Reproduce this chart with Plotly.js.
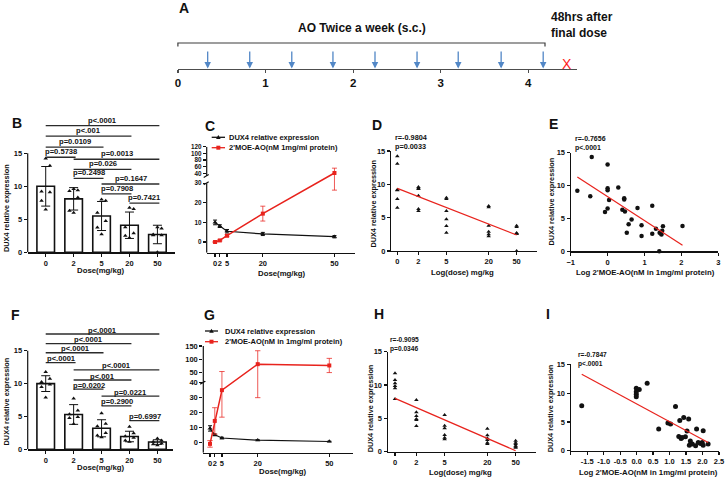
<!DOCTYPE html>
<html>
<head>
<meta charset="utf-8">
<script src="https://cdn.plot.ly/plotly-3.0.1.min.js"></script>
<style>
  html, body { margin: 0; padding: 0; background: #fff; }
  #fig { width: 727px; height: 481px; }
</style>
</head>
<body>
<div id="fig"></div>
<script>
// ---------------- data ----------------
const doseLabels = ['0', '2', '5', '20', '50'];
const doses = [0, 2, 5, 20, 50];
const logDose = [0, 0.301, 0.699, 1.301, 1.699];

// dosing schedule (weeks)
const weekTicks = [0, 1, 2, 3, 4];
const doseWeeks = [0.34, 0.82, 1.30, 1.77, 2.25, 2.73, 3.20, 3.69, 4.17];
const harvestWeek = 4.44;

// study 1: individual DUX4 relative expression per dose group
const dux4Top = [
  [14.2, 13.1, 9.2, 9.1, 7.8, 6.5],
  [9.6, 9.4, 9.3, 8.3, 6.3, 6.0],
  [8.0, 7.8, 6.0, 4.75, 3.75, 2.75],
  [6.75, 6.55, 3.8, 2.9, 2.5, 2.2],
  [3.8, 3.6, 2.7, 2.6, 2.6, 0.0]
];
const dux4TopMean = [10.0, 8.1, 5.5, 4.1, 2.7];
const dux4TopSD = [3.0, 1.7, 2.2, 2.0, 1.4];
const dux4TopSEM = [1.2, 0.7, 0.9, 0.8, 0.6];
const aoTopMean = [0, 0.8, 3.2, 14.5, 41];
const aoTopSEM = [0.3, 0.3, 0.5, 3.8, 14.5];
const fitTopDose = [9.4, 2.4];
const statTopDose = ['r=-0.9804', 'p=0.0033'];
const eLogAO = [-0.82, -0.43, -0.47, 0.00, 0.00, 0.00, 0.04, 0.00, -0.07, 0.29,
                0.45, 0.45, 0.40, 0.47, 0.65, 0.57, 0.52, 0.81, 0.92, 0.92,
                1.21, 1.21, 1.31, 1.41, 1.48, 1.46, 1.50, 2.03, 1.40, 1.44];
const eDux4 = [9.18, 14.3, 8.36, 13.18, 9.59, 9.28, 7.79, 6.51, 5.95, 9.69,
               8.05, 7.85, 6.31, 6.05, 4.82, 4.10, 2.82, 6.56, 3.95, 2.31,
               6.92, 2.67, 3.44, 2.82, 3.13, 2.56, 3.79, 3.85, 0.0, 2.72];
const fitTopAOx = [-0.82, 2.03];
const fitTopAOy = [11.28, 0.92];
const statTopAO = ['r=-0.7656', 'p<.0001'];

// study 2
const dux4Bot = [
  [11.75, 10.75, 10.25, 9.85, 9.5, 7.9],
  [7.75, 5.9, 5.35, 4.9, 4.75, 3.85],
  [5.5, 3.9, 3.5, 2.5, 2.1, 1.85],
  [3.45, 2.45, 2.0, 1.75, 1.35, 1.15],
  [1.65, 1.35, 1.15, 0.9, 0.75, 0.6]
];
const dux4BotMean = [10.0, 5.3, 3.2, 1.95, 1.1];
const dux4BotSD = [1.2, 1.5, 1.3, 0.8, 0.35];
const dux4BotLine = [9.5, 5.2, 3.1, 1.7, 0.8];
const dux4BotLineErr = [1.8, 0.6, 0.5, 0.3, 0.2];
const aoBotMean = [-0.8, 14.5, 35, 81, 76];
const aoBotErr = [2.2, 8.8, 18, 51, 27];
const fitBotDose = [8.0, 0.15];
const statBotDose = ['r=-0.9095', 'p=0.0346'];
const iLogAO = [-1.665, -0.01, 0.08, -0.01, -0.01, -0.01, 0.32, 0.67, 0.95, 1.03,
                1.18, 1.31, 1.43, 1.58, 1.28, 1.35, 1.48, 1.53, 1.63, 1.60,
                1.69, 1.79, 1.82, 2.02, 1.94, 1.99, 2.02, 2.17, 1.38, 1.87];
const iDux4 = [7.82, 10.83, 10.65, 10.25, 9.79, 9.38, 11.7, 3.76, 4.81, 4.63,
               7.7, 5.27, 5.79, 5.5, 2.49, 2.14, 2.43, 3.42, 1.68, 0.98,
               1.16, 0.87, 3.76, 3.47, 1.27, 1.45, 0.98, 1.16, 2.3, 1.45];
const fitBotAOx = [-1.665, 2.17];
const fitBotAOy = [13.26, 1.45];
const statBotAO = ['r=-0.7847', 'p<.0001'];

// pairwise comparisons (group indices) and their p values
const sigPairs = [[0, 4], [0, 3], [0, 2], [0, 1], [1, 4], [1, 3], [1, 2], [2, 4], [2, 3], [3, 4]];
const sigTopP = ['p<.0001', 'p<.001', 'p=0.0109', 'p=0.5738', 'p=0.0013', 'p=0.026', 'p=0.2498', 'p=0.1647', 'p=0.7908', 'p=0.7421'];
const sigBotP = ['p<.0001', 'p<.0001', 'p<.0001', 'p<.0001', 'p<.0001', 'p<.001', 'p=0.0202', 'p=0.0221', 'p=0.2900', 'p=0.6997'];

// ---------------- styling / layout helpers ----------------
const FONT = 'Arial, "Liberation Sans", Helvetica, sans-serif';
const INK = '#111111';
const RED = '#e8231d';
const RED_ERR = 'rgba(232,35,29,0.75)';
const BLUE = '#5287c6';
const W = 727, H = 481;
const hx = p => p / W;
const vy = p => 1 - p / H;
const bold = (size, color) => ({family: FONT, size: size, color: color || INK, weight: 'bold'});

// bracket heights (axis units) for the comparison bars
const sigTopLevels = [19.2, 17.6, 15.95, 14.4, 14.1, 12.55, 11.2, 10.35, 8.85, 7.45];
const sigBotLevels = [17.55, 16.1, 14.7, 13.2, 12.1, 10.55, 9.15, 8.1, 6.6, 4.37];
const jitter = [0, 0.15, -0.15, 0.15, -0.15, 0];

// broken y axis: values above the break are compressed into the upper segment
function makeBreak(lowTop, highBottom, gap, highScale) {
  return v => (v <= lowTop ? v : lowTop + gap + (v - highBottom) * highScale);
}
const brkC = makeBreak(30, 32, 3.73, 0.170);
const brkG = makeBreak(40, 40, 5.13, 0.1753);
function brokenErr(mean, err, f, color, width) {
  return {
    type: 'data', symmetric: false, visible: true,
    array: mean.map((m, i) => f(m + err[i]) - f(m)),
    arrayminus: mean.map((m, i) => f(m) - f(m - err[i])),
    color: color, thickness: 1, width: width
  };
}

function xAx(d0, d1, range, anchor, extra) {
  return Object.assign({
    domain: [hx(d0), hx(d1)], range: range, anchor: anchor,
    showline: true, linecolor: INK, linewidth: 1.2,
    ticks: 'outside', ticklen: 3, tickwidth: 1.2, tickcolor: INK,
    showgrid: false, zeroline: false, tickangle: 0, fixedrange: true,
    tickfont: bold(7.5)
  }, extra || {});
}
function yAx(bottom, top, range, anchor, extra) {
  return Object.assign({
    domain: [vy(bottom), vy(top)], range: range, anchor: anchor,
    showline: true, linecolor: INK, linewidth: 1.2,
    ticks: 'outside', ticklen: 3, tickwidth: 1.2, tickcolor: INK,
    showgrid: false, zeroline: false, fixedrange: true,
    tickfont: bold(7.5)
  }, extra || {});
}

const catTicks = {tickmode: 'array', tickvals: [0, 1, 2, 3, 4], ticktext: doseLabels};
const doseTicks = {tickmode: 'array', tickvals: doses, ticktext: doseLabels};
const logTicks = {tickmode: 'array', tickvals: logDose, ticktext: doseLabels};
const y15 = {tickmode: 'array', tickvals: [0, 5, 10, 15]};

const layout = {
  width: W, height: H,
  margin: {l: 0, r: 0, t: 0, b: 0},
  paper_bgcolor: '#ffffff', plot_bgcolor: 'rgba(0,0,0,0)',
  showlegend: false,
  font: {family: FONT, size: 7.5, color: INK},
  // B
  xaxis: xAx(27.7, 175, [-0.645, 4.63], 'y', catTicks),
  yaxis: yAx(252.3, 120.3, [0, 20], 'x', Object.assign({showline: false}, y15)),
  // C
  xaxis2: xAx(206.7, 355, [-3.5, 58.6], 'y2', doseTicks),
  yaxis2: yAx(252.7, 146.7, [-5.47, brkC(120)], 'x2', {
    showline: false, tickmode: 'array', tickfont: bold(6.3),
    tickvals: [0, 10, 20, 30].concat([40, 60, 80, 100, 120].map(brkC)),
    ticktext: ['0', '10', '20', '30', '40', '60', '80', '100', '120']
  }),
  // D
  xaxis3: xAx(391, 536.7, [-0.09, 1.985], 'y3', logTicks),
  yaxis3: yAx(251, 151, [0, 15], 'x3', y15),
  // E
  xaxis4: xAx(570.7, 718.3, [-1, 3], 'y4', {tickmode: 'array', tickvals: [-1, 0, 1, 2, 3]}),
  yaxis4: yAx(251.3, 152.5, [0, 15], 'x4', y15),
  // F
  xaxis5: xAx(27.7, 173.3, [-0.645, 4.57], 'y5', catTicks),
  yaxis5: yAx(449.3, 324.5, [0, 19], 'x5', Object.assign({showline: false}, y15)),
  // G
  xaxis6: xAx(203.3, 353.3, [-2.81, 60.06], 'y6', doseTicks),
  yaxis6: yAx(452.7, 346, [-6.67, brkG(150)], 'x6', {
    showline: false, tickmode: 'array',
    tickvals: [0, 10, 20, 30, 40].concat([50, 100, 150].map(brkG)),
    ticktext: ['0', '10', '20', '30', '40', '50', '100', '150']
  }),
  // H
  xaxis7: xAx(387.7, 536, [-0.103, 1.986], 'y7', logTicks),
  yaxis7: yAx(451.7, 351.7, [0, 15], 'x7', y15),
  // I
  xaxis8: xAx(570.7, 719, [-2, 2.5], 'y8', {
    tickmode: 'array', tickvals: [-2, -1.5, -1, -0.5, 0, 0.5, 1, 1.5, 2, 2.5],
    ticktext: ['', '-1.5', '-1.0', '-0.5', '0.0', '0.5', '1.0', '1.5', '2.0', '2.5']
  }),
  yaxis8: yAx(450.8, 364.3, [0, 15], 'x8', y15),
  // A: dosing timeline
  xaxis9: xAx(177.9, 577, [0, 4.556], 'y9', {
    tickmode: 'array', tickvals: weekTicks, linecolor: '#4d4d4d', linewidth: 1.3,
    tickcolor: '#4d4d4d', ticklen: 3, tickfont: bold(11.5)
  }),
  yaxis9: yAx(68.6, 40, [0, 1], 'x9', {visible: false, showline: false, ticks: ''}),
  annotations: [],
  shapes: []
};

const ann = layout.annotations;
const shp = layout.shapes;
function text(x, y, t, font, extra) {
  ann.push(Object.assign({xref: 'paper', yref: 'paper', x: hx(x), y: vy(y), text: t,
    showarrow: false, font: font, xanchor: 'center', yanchor: 'middle'}, extra || {}));
}

// ---------------- traces ----------------
const traces = [];

function barPanel(ax, mean, sd, points) {
  traces.push({
    type: 'bar', x: [0, 1, 2, 3, 4], y: mean, width: 0.63,
    xaxis: 'x' + ax, yaxis: 'y' + ax,
    marker: {color: '#ffffff', line: {color: INK, width: 1.6}},
    error_y: {type: 'data', array: sd, visible: true, color: INK, thickness: 1, width: 4.5},
    hoverinfo: 'skip'
  });
  const px = [], py = [];
  points.forEach((grp, i) => grp.forEach((v, k) => { px.push(i + jitter[k]); py.push(v); }));
  traces.push({
    type: 'scatter', mode: 'markers', x: px, y: py, xaxis: 'x' + ax, yaxis: 'y' + ax,
    marker: {symbol: 'triangle-up', size: 4, color: INK}, cliponaxis: false, hoverinfo: 'skip'
  });
}
function sigBars(ax, levels, labels, shift) {
  const xa = 'x' + ax, ya = 'y' + ax;
  sigPairs.forEach((pr, i) => {
    shp.push({type: 'line', xref: xa, yref: ya, x0: pr[0], x1: pr[1] + 0.07,
      y0: levels[i], y1: levels[i], line: {color: '#2b2b2b', width: 1.3}});
    ann.push({xref: xa, yref: ya, x: (pr[0] + pr[1]) / 2 + 0.05, y: levels[i], yshift: shift,
      text: labels[i], showarrow: false, font: bold(7.6), xanchor: 'center', yanchor: 'middle'});
  });
}
function doseResponse(ax, dMean, dErr, aMean, aErr, f, errW) {
  traces.push({
    type: 'scatter', mode: 'lines+markers', x: doses, y: dMean, xaxis: 'x' + ax, yaxis: 'y' + ax,
    line: {color: INK, width: 1.2}, marker: {symbol: 'triangle-up', size: 4.5, color: INK},
    error_y: {type: 'data', array: dErr, visible: true, color: INK, thickness: 1, width: 2},
    cliponaxis: false, hoverinfo: 'skip'
  });
  traces.push({
    type: 'scatter', mode: 'lines+markers', x: doses, y: aMean.map(f), xaxis: 'x' + ax, yaxis: 'y' + ax,
    line: {color: RED, width: 1.5}, marker: {symbol: 'square', size: 4, color: RED},
    error_y: brokenErr(aMean, aErr, f, RED_ERR, errW),
    cliponaxis: false, hoverinfo: 'skip'
  });
}
function scatterFit(ax, xs, ys, fx, fy, symbol, size) {
  traces.push({
    type: 'scatter', mode: 'markers', x: xs, y: ys, xaxis: 'x' + ax, yaxis: 'y' + ax,
    marker: {symbol: symbol, size: size, color: INK}, cliponaxis: false, hoverinfo: 'skip'
  });
  traces.push({
    type: 'scatter', mode: 'lines', x: fx, y: fy, xaxis: 'x' + ax, yaxis: 'y' + ax,
    line: {color: RED, width: 1.2}, hoverinfo: 'skip'
  });
}
function groupX(groups) {
  const xs = [], ys = [];
  groups.forEach((grp, i) => grp.forEach(v => { xs.push(logDose[i]); ys.push(v); }));
  return [xs, ys];
}

// B / F bar charts
barPanel('', dux4TopMean, dux4TopSD, dux4Top);
sigBars('', sigTopLevels, sigTopP, 5.5);
barPanel('5', dux4BotMean, dux4BotSD, dux4Bot);
sigBars('5', sigBotLevels, sigBotP, 4);
// y-axis lines of the bar charts stop at 15
shp.push({type: 'line', xref: 'paper', yref: 'y', x0: hx(27.7), x1: hx(27.7), y0: 0, y1: 15, line: {color: INK, width: 1.2}});
shp.push({type: 'line', xref: 'paper', yref: 'y5', x0: hx(27.7), x1: hx(27.7), y0: 0, y1: 15, line: {color: INK, width: 1.2}});

// C / G dose-response with broken axis
doseResponse('2', dux4TopMean, dux4TopSEM, aoTopMean, aoTopSEM, brkC, 2.5);
doseResponse('6', dux4BotLine, dux4BotLineErr, aoBotMean, aoBotErr, brkG, 2.7);
function brokenAxisLine(ya, xPx, bottom, lowTop, highBottom, highTop) {
  [[bottom, lowTop], [highBottom, highTop]].forEach(seg => {
    shp.push({type: 'line', xref: 'paper', yref: ya, x0: hx(xPx), x1: hx(xPx), y0: seg[0], y1: seg[1], line: {color: INK, width: 1.2}});
  });
  [lowTop, highBottom].forEach(v => {
    shp.push({type: 'line', xref: 'paper', yref: ya, xsizemode: 'pixel', ysizemode: 'pixel',
      xanchor: hx(xPx), yanchor: v, x0: -3, x1: 2, y0: -1.5, y1: 1.5, line: {color: INK, width: 1.1}});
  });
}
brokenAxisLine('y2', 206.7, -5.47, 30, brkC(32), brkC(120));
brokenAxisLine('y6', 203.3, -6.67, 40, brkG(40), brkG(150));

// D / H: DUX4 vs log dose
const dPts = groupX(dux4Top);
scatterFit('3', dPts[0], dPts[1], [logDose[0], logDose[4]], fitTopDose, 'triangle-up', 4);
const hPts = groupX(dux4Bot);
scatterFit('7', hPts[0], hPts[1], [logDose[0], logDose[4]], fitBotDose, 'triangle-up', 4);

// E / I: DUX4 vs log AO concentration
scatterFit('4', eLogAO, eDux4, fitTopAOx, fitTopAOy, 'circle', 4.5);
scatterFit('8', iLogAO, iDux4, fitBotAOx, fitBotAOy, 'circle', 5);

// ---------------- legends of C and G ----------------
function legendRow(x0, x1, y, color, marker, label, tx) {
  shp.push({type: 'line', xref: 'paper', yref: 'paper', x0: hx(x0), x1: hx(x1), y0: vy(y), y1: vy(y), line: {color: color, width: 1.3}});
  const cx = (x0 + x1) / 2;
  if (marker === 'tri') {
    shp.push({type: 'path', xref: 'paper', yref: 'paper', fillcolor: color, line: {width: 0},
      path: `M ${hx(cx - 2.3)} ${vy(y + 1.8)} L ${hx(cx + 2.3)} ${vy(y + 1.8)} L ${hx(cx)} ${vy(y - 2.3)} Z`});
  } else {
    shp.push({type: 'rect', xref: 'paper', yref: 'paper', fillcolor: color, line: {width: 0},
      x0: hx(cx - 2), x1: hx(cx + 2), y0: vy(y + 2), y1: vy(y - 2)});
  }
  text(tx, y, label, bold(7.5), {xanchor: 'left'});
}
legendRow(211.7, 225, 137.3, INK, 'tri', 'DUX4 relative expression', 226.7);
legendRow(211.7, 225, 147.7, RED, 'sq', "2'MOE-AO(nM 1mg/ml protein)", 226.7);
legendRow(205, 218, 331, INK, 'tri', 'DUX4 relative expression', 222.7);
legendRow(205, 218, 341.7, RED, 'sq', "2'MOE-AO(nM in 1mg/ml protein)", 222.7);

// ---------------- panel A: dosing schedule ----------------
doseWeeks.forEach(w => ann.push({
  xref: 'x9', yref: 'y9', x: w, y: 0, ax: 0, ay: -18.6, text: '', showarrow: true,
  arrowhead: 2, arrowsize: 1, arrowwidth: 1.3, arrowcolor: BLUE
}));
ann.push({xref: 'x9', yref: 'paper', x: harvestWeek, y: vy(64), text: 'X', showarrow: false,
  font: {family: FONT, size: 14, color: '#ff1a1a'}, xanchor: 'center', yanchor: 'middle'});
shp.push({type: 'path', xref: 'paper', yref: 'paper', line: {color: '#3d3d3d', width: 1.2},
  path: `M ${hx(177.9)} ${vy(46.6)} L ${hx(177.9)} ${vy(43)} L ${hx(545)} ${vy(43)} L ${hx(545)} ${vy(46.6)}`});
text(362, 28.5, 'AO Twice a week (s.c.)', bold(12));
text(548.6, 17, '48hrs after', bold(12), {xanchor: 'left'});
text(548.6, 32.7, 'final dose', bold(12), {xanchor: 'left'});

// ---------------- panel letters ----------------
[['A', 177, 7.8], ['B', 9.5, 122.7], ['C', 203.3, 126], ['D', 370, 125], ['E', 546.7, 124.3],
 ['F', 9, 314.5], ['G', 201.7, 315], ['H', 371.7, 313.5], ['I', 544, 313.5]]
  .forEach(l => text(l[1], l[2], l[0], bold(14), {xanchor: 'left'}));

// ---------------- axis titles ----------------
const yTitle = 'DUX4 relative expression';
[[6.7, 208.3], [373.3, 203.3], [551.7, 201.7], [6.7, 401.7], [370, 408.3], [550, 408.3]]
  .forEach(p => text(p[0], p[1], yTitle, bold(7.3), {textangle: -90}));
text(101, 270.5, 'Dose(mg/kg)', bold(7.8));
text(282, 273.5, 'Dose(mg/kg)', bold(7.8));
text(462, 272, 'Log(dose) mg/kg', bold(7.8));
text(645, 272.5, "Log 2'MOE-AO(nM in 1mg/ml protein)", bold(7.8));
text(101, 467.3, 'Dose(mg/kg)', bold(7.8));
text(283, 471.7, 'Dose(mg/kg)', bold(7.8));
text(460, 472.7, 'Log(dose) mg/kg', bold(7.8));
text(648, 472.7, "Log 2'MOE-AO(nM in 1mg/ml protein)", bold(7.8));

// ---------------- correlation statistics (two-line blocks) ----------------
function stats(x, yMid, s, size) {
  text(x, yMid, s[0] + '<br>' + s[1], bold(size), {xanchor: 'left', align: 'left', borderpad: 0});
}
stats(394.3, 142, statTopDose, 7.3);
stats(574.3, 143, statTopAO, 7.0);
stats(389, 344.7, statBotDose, 6.6);
stats(576.7, 359.7, statBotAO, 6.6);

Plotly.newPlot('fig', traces, layout, {staticPlot: true, displayModeBar: false});
</script>
</body>
</html>
